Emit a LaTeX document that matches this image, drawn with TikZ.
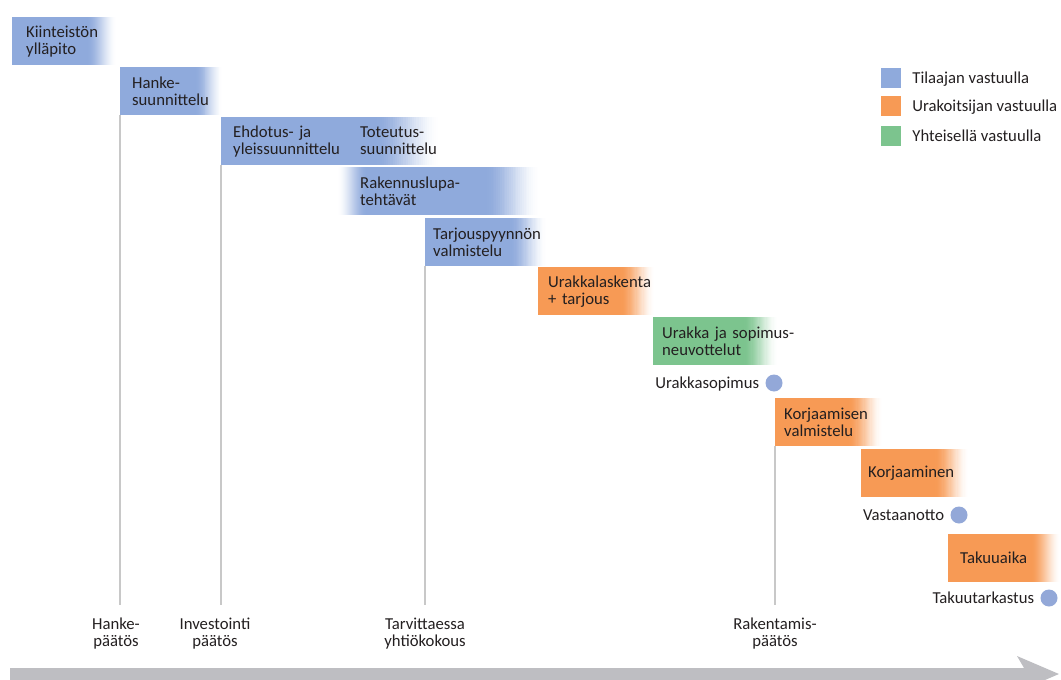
\documentclass[tikz,border=0pt]{standalone}
\usepackage{fontspec}
\setmainfont{Carlito}
\usetikzlibrary{calc}
\definecolor{cblue}{HTML}{8FAADC}
\definecolor{corange}{HTML}{F79A55}
\definecolor{cgreen}{HTML}{7CC48E}
\definecolor{cdot}{HTML}{93A8D8}
\definecolor{cline}{HTML}{C8C8C8}
\definecolor{carrow}{HTML}{BEBEC2}
\definecolor{ctext}{HTML}{231F20}
\newcommand\phfont{\fontsize{16.7}{17}\selectfont}
\tikzset{
  ptxt/.style={font=\phfont, text=ctext},
  phase/.style={ptxt, rectangle, anchor=north west, minimum height=48pt, inner ysep=0pt, align=left},
  rfade/.style 2 args={fill=white, path picture={
    \fill[#1] (path picture bounding box.north west) rectangle ([xshift=-#2pt+0.5pt]path picture bounding box.south east);
    \foreach \i in {0,...,29}{
      \pgfmathsetmacro\tt{(\i+0.5)/30}
      \pgfmathsetmacro\pc{100*(1-(3*\tt*\tt-2*\tt*\tt*\tt))}
      \fill[#1!\pc!white] ([xshift=-#2pt+\i*#2pt/30]path picture bounding box.north east) rectangle ([xshift=-#2pt+\i*#2pt/30+#2pt/30+0.4pt]path picture bounding box.south east);
    }
  }},
  lrfade/.style n args={3}{fill=white, path picture={
    \fill[#1] ([xshift=#2pt-0.5pt]path picture bounding box.north west) rectangle ([xshift=-#3pt+0.5pt]path picture bounding box.south east);
    \foreach \i in {0,...,29}{
      \pgfmathsetmacro\tt{(\i+0.5)/30}
      \pgfmathsetmacro\pc{100*(3*\tt*\tt-2*\tt*\tt*\tt)}
      \fill[#1!\pc!white] ([xshift=\i*#2pt/30]path picture bounding box.north west) rectangle ([xshift=\i*#2pt/30+#2pt/30+0.4pt]path picture bounding box.south west);
      \pgfmathsetmacro\pd{100*(1-(3*\tt*\tt-2*\tt*\tt*\tt))}
      \fill[#1!\pd!white] ([xshift=-#3pt+\i*#3pt/30]path picture bounding box.north east) rectangle ([xshift=-#3pt+\i*#3pt/30+#3pt/30+0.4pt]path picture bounding box.south east);
    }
  }},
  vline/.style={draw=cline, line width=1.5pt},
  dot/.style={circle, fill=cdot, minimum size=17pt, inner sep=0pt},
  sq/.style={rectangle, minimum size=20pt, inner sep=0pt},
  lbl/.style={ptxt, align=center, inner sep=0pt},
}
\begin{document}
\hyphenpenalty=10000 \exhyphenpenalty=10000 \relax
\begin{tikzpicture}[x=1pt, y=-1pt]
\useasboundingbox (0,0) rectangle (1061,680);
% phase boxes
\node[phase, rfade={cblue}{30}, inner xsep=14pt, text width=77pt] (b1) at (12,17) {Kiinteistön\\ylläpito};
\node[phase, rfade={cblue}{28}, inner xsep=12pt, text width=79pt] (b2) at (120,67) {Hanke-\\suunnittelu};
\node[phase, rfade={cblue}{65}, inner xsep=12pt, text width=195pt] (b3) at (221,117) {Ehdotus- ja\\yleissuunnittelu};
\node[ptxt, anchor=west, align=left, inner xsep=0pt] (b3b) at (360,141) {Toteutus-\\suunnittelu};
\node[phase, lrfade={cblue}{30}{55}, inner xsep=23pt, text width=157pt] (b4) at (337,167) {Rakennuslupa-\\tehtävät};
\node[phase, rfade={cblue}{38}, inner xsep=8pt, text width=106pt] (b5) at (425,218) {Tarjouspyynnön\\valmistelu};
\node[phase, rfade={corange}{35}, inner xsep=10pt, text width=97pt] (b6) at (538,267) {Urakkalaskenta\\+~tarjous};
\node[phase, rfade={cgreen}{35}, inner xsep=9pt, text width=107pt] (b7) at (653,317) {Urakka~ja~sopimus-\\neuvottelut};
\node[phase, rfade={corange}{35}, inner xsep=9pt, text width=90pt] (b8) at (775,398) {Korjaamisen\\valmistelu};
\node[phase, rfade={corange}{35}, inner xsep=7pt, text width=94pt] (b9) at (861,449) {Korjaaminen};
\node[phase, rfade={corange}{30}, inner xsep=12pt, text width=89pt] (b10) at (948,534) {Takuuaika};
% vertical lines
\coordinate (lineend) at (0,605);
\draw[vline] (b2.south west) -- (b2.south west |- lineend);
\draw[vline] (b3.south west) -- (b3.south west |- lineend);
\draw[vline] (b5.south west) -- (b5.south west |- lineend);
\draw[vline] (b8.south west) -- (b8.south west |- lineend);
% milestones
\node[dot] (m1) at (774,383) {};
\node[ptxt, anchor=base east, inner sep=0pt] (m1t) at ([xshift=-6pt,yshift=-5.5pt]m1.west) {Urakkasopimus};
\node[dot] (m2) at (959,515) {};
\node[ptxt, anchor=base east, inner sep=0pt] (m2t) at ([xshift=-6pt,yshift=-5.5pt]m2.west) {Vastaanotto};
\node[dot] (m3) at (1049,598) {};
\node[ptxt, anchor=base east, inner sep=0pt] (m3t) at ([xshift=-6pt,yshift=-5.5pt]m3.west) {Takuutarkastus};
% decisions
\node[lbl] (d1) at (116,634) {Hanke-\\päätös};
\node[lbl] (d2) at (215,634) {Investointi\\päätös};
\node[lbl] (d3) at (425,634) {Tarvittaessa\\yhtiökokous};
\node[lbl] (d4) at (775,634) {Rakentamis-\\päätös};
% legend
\node[sq, fill=cblue] (l1) at (891,77.5) {};
\node[ptxt, anchor=base west, inner sep=0pt] (l1t) at ([xshift=11pt,yshift=-5.5pt]l1.east) {Tilaajan vastuulla};
\node[sq, fill=corange] (l2) at (891,106) {};
\node[ptxt, anchor=base west, inner sep=0pt] (l2t) at ([xshift=11pt,yshift=-5.5pt]l2.east) {Urakoitsijan vastuulla};
\node[sq, fill=cgreen] (l3) at (891,135.5) {};
\node[ptxt, anchor=base west, inner sep=0pt] (l3t) at ([xshift=11pt,yshift=-5.5pt]l3.east) {Yhteisellä vastuulla};
% time arrow
\begin{scope}
\clip (0,0) rectangle (1061,680);
\fill[carrow] (10,668) -- (1024,668) -- (1017,656) -- (1059,674) -- (1017,692) -- (1024,680) -- (10,680) -- cycle;
\end{scope}
\end{tikzpicture}
\end{document}
